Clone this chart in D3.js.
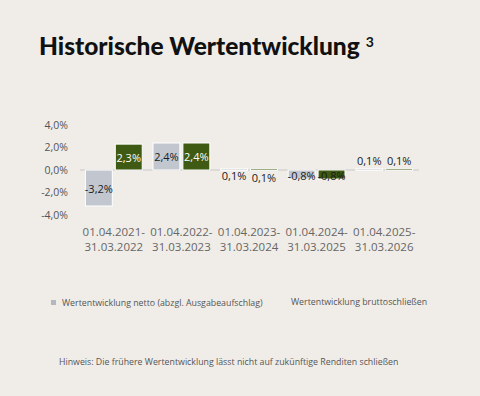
<!DOCTYPE html>
<html>
<head>
<meta charset="utf-8">
<script src="https://cdn.jsdelivr.net/npm/d3@7"></script>
<style>
  html, body { margin: 0; padding: 0; background: #f0ede8; }
  svg { display: block; }
</style>
</head>
<body>
<svg id="chart" width="480" height="396" viewBox="0 0 480 396"></svg>
<script>
var periods = ["01.04.2021-|31.03.2022", "01.04.2022-|31.03.2023", "01.04.2023-|31.03.2024", "01.04.2024-|31.03.2025", "01.04.2025-|31.03.2026"];
var netto = [-3.2, 2.4, 0.1, -0.8, 0.1];
var brutto = [2.3, 2.4, 0.1, -0.8, 0.1];
var yTicks = [-4, -2, 0, 2, 4];
var seriesNames = ["Wertentwicklung netto (abzgl. Ausgabeaufschlag)", "Wertentwicklung bruttoschließen"];

var svg = d3.select("#chart");
var fmt = function (v) { return v.toFixed(1).replace(".", ",") + "%"; };

// titel
var title = svg.append("text")
  .attr("x", 39).attr("y", 55)
  .attr("font-family", "Lato, 'Open Sans', sans-serif")
  .attr("font-weight", 900)
  .attr("font-size", 24.5)
  .attr("fill", "#111");
title.append("tspan").text("Historische Wertentwicklung");
title.append("tspan").attr("dx", 6).attr("dy", -8).attr("font-size", 14).attr("font-weight", 700).text("3");

var x0 = d3.scaleBand().domain(d3.range(periods.length)).range([80, 418]);
var x1 = d3.scaleBand().domain([0, 1]).range([0, x0.bandwidth()]).paddingInner(0.1).paddingOuter(0.18);
var y = d3.scaleLinear().domain([-4, 4]).range([215, 125]);

// y achse
var yAxis = d3.axisLeft(y).tickValues(yTicks).tickSize(0).tickPadding(0)
  .tickFormat(function (d) { return d.toFixed(1).replace(".", ",") + "%"; });
var gy = svg.append("g").attr("transform", "translate(68,0)").call(yAxis);
gy.select(".domain").remove();
gy.selectAll("text").attr("font-family", "'Open Sans', sans-serif").attr("font-size", 10.5).attr("fill", "#555");

// nulllinie
svg.append("line").attr("x1", 80).attr("x2", 419).attr("y1", y(0)).attr("y2", y(0))
  .attr("stroke", "#c8c8c8").attr("stroke-width", 1);

var colors = ["#c2c7cf", "#3e5a13"];
var series = [netto, brutto];

series.forEach(function (vals, s) {
  var g = svg.append("g");
  g.selectAll("rect").data(vals).enter().append("rect")
    .attr("x", function (d, i) { return x0(i) + x1(s); })
    .attr("width", x1.bandwidth())
    .attr("y", function (d) { return Math.min(y(d), y(0)); })
    .attr("height", function (d) { return Math.max(Math.abs(y(d) - y(0)), 1.5); })
    .attr("fill", colors[s])
    .attr("stroke", "#ffffff").attr("stroke-width", 1);
});

// werte
series.forEach(function (vals, s) {
  vals.forEach(function (d, i) {
    var cx = x0(i) + x1(s) + x1.bandwidth() / 2;
    var h = Math.abs(y(d) - y(0));
    var cy, col = "#1a1a1a";
    if (h > 14) {
      cy = (y(d) + y(0)) / 2;
      if (s === 1) col = "#ffffff";
    } else if (Math.abs(d) > 0.5) {
      cy = (y(d) + y(0)) / 2 + 1;
    } else if (i === periods.length - 1) {
      cy = y(0) - 10;
    } else {
      cy = y(0) + 5 + s * 2;
    }
    svg.append("text")
      .attr("x", cx).attr("y", cy)
      .attr("text-anchor", "middle").attr("dominant-baseline", "central")
      .attr("font-family", "'Open Sans', sans-serif").attr("font-size", 11)
      .attr("fill", col)
      .text(fmt(d));
  });
});

// x beschriftung
var xl = svg.append("g");
periods.forEach(function (p, i) {
  var parts = p.split("|");
  var t = xl.append("text")
    .attr("x", x0(i) + x0.bandwidth() / 2).attr("y", 236)
    .attr("text-anchor", "middle")
    .attr("font-family", "'Open Sans', sans-serif").attr("font-size", 11.5)
    .attr("fill", "#666");
  t.append("tspan").text(parts[0]);
  t.append("tspan").attr("x", x0(i) + x0.bandwidth() / 2).attr("dy", 15).text(parts[1]);
});

// legende
svg.append("rect").attr("x", 51).attr("y", 300).attr("width", 5).attr("height", 5).attr("fill", "#b3b7be");
svg.append("text").attr("x", 62).attr("y", 306)
  .attr("font-family", "'Open Sans', sans-serif").attr("font-size", 8.8).attr("fill", "#555")
  .text(seriesNames[0]);
svg.append("text").attr("x", 291).attr("y", 305)
  .attr("font-family", "'Open Sans', sans-serif").attr("font-size", 8.8).attr("fill", "#555")
  .text(seriesNames[1]);

svg.append("text").attr("x", 59).attr("y", 365)
  .attr("font-family", "'Open Sans', sans-serif").attr("font-size", 8.8).attr("fill", "#555")
  .text("Hinweis: Die frühere Wertentwicklung lässt nicht auf zukünftige Renditen schließen");
</script>
</body>
</html>
